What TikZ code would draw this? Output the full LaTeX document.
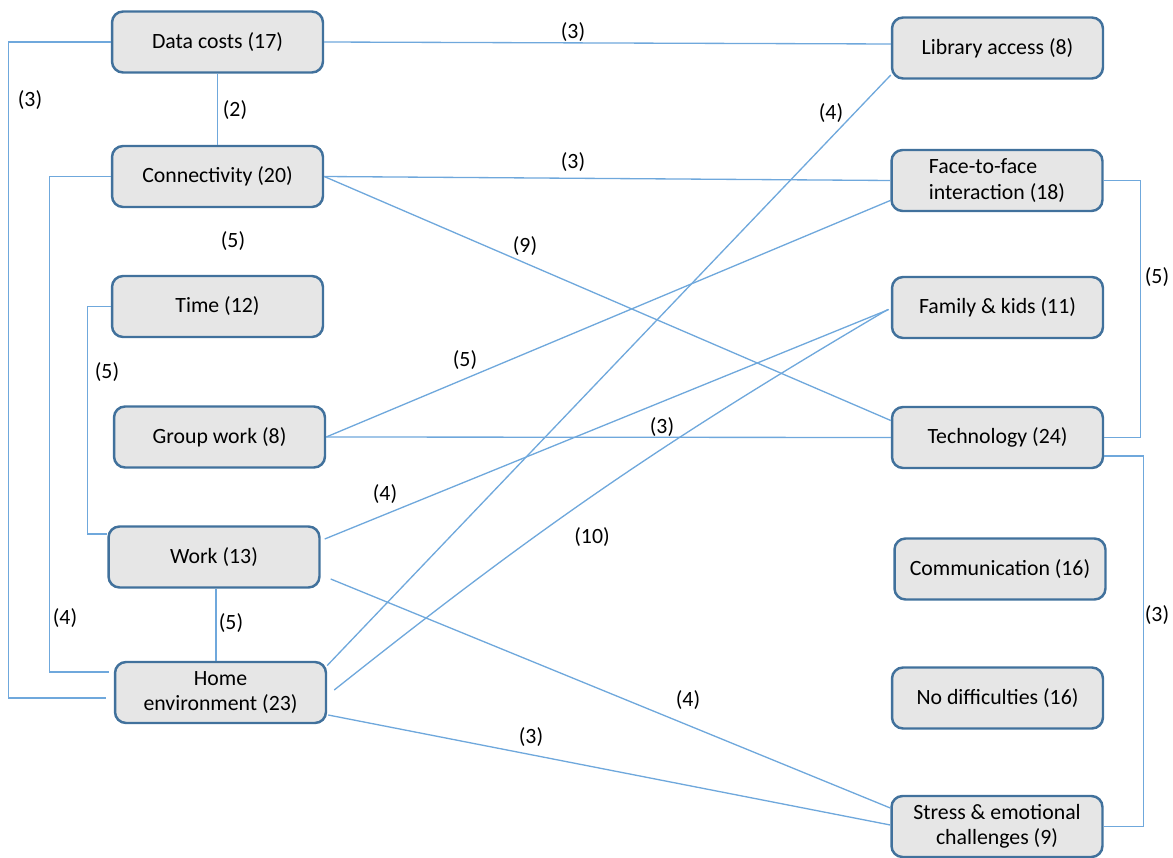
\documentclass[tikz,border=0pt]{standalone}
\usepackage{fontspec}
\setmainfont{Carlito}
\usetikzlibrary{calc}
\definecolor{boxedge}{HTML}{41719C}
\definecolor{boxfill}{HTML}{E6E6E6}
\definecolor{linkblue}{HTML}{6FA8DC}
\begin{document}
\begin{tikzpicture}[x=0.02cm,y=-0.02cm,
  box/.style={draw=boxedge, fill=boxfill, line width=1.4pt, rounded corners=0.22cm,
    minimum width=4.22cm, minimum height=1.22cm, inner sep=2pt, align=center,
    font=\fontsize{12.4}{14.5}\selectfont},
  link/.style={draw=linkblue, line width=0.75pt},
  num/.style={font=\fontsize{12.4}{14.5}\selectfont, inner sep=1pt}]
\useasboundingbox (0,0) rectangle (1173,858);

% left column
\node[box] (dc)    at (217.5,42)  {Data costs (17)};
\node[box] (conn)  at (217.5,176.5) {Connectivity (20)};
\node[box] (time)  at (217.5,306.5) {Time (12)};
\node[box] (group) at (219.5,437) {Group work (8)};
\node[box] (work)  at (214,557)   {Work (13)};
\node[box] (home)  at (220.5,692.5) {Home\\environment (23)};

% right column
\node[box] (lib)    at (997.5,48)   {Library access (8)};
\node[box, align=left] (f2f) at (997,180.5) {Face-to-face\\interaction (18)};
\node[box] (fam)    at (997.5,307.5) {Family \& kids (11)};
\node[box] (tech)   at (997.5,437.5) {Technology (24)};
\node[box] (comm)   at (1000,569)   {Communication (16)};
\node[box] (nodiff) at (997.5,698)  {No difficulties (16)};
\node[box] (stress) at (997,826.5)  {Stress \& emotional\\challenges (9)};

% elbow connectors on the left
\draw[link] (dc.west) -- ++(-102,0) |- ($(home.west)+(-8,5.5)$);
\draw[link] (conn.west) -- ++(-61,0) |- ($(home.west)+(-5,-20.5)$);
\draw[link] (time.west) -- ++(-23,0) |- ($(work.west)+(0,-23)$);
\draw[link] (dc.south) -- (conn.north);
\coordinate (wh) at (216,0);
\draw[link] (work.south -| wh) -- (home.north -| wh);

% straight links across
\draw[link] (dc.east) -- ($(lib.west)+(0,-4)$);
\draw[link] (conn.east) -- (f2f.west);
\draw[link] (conn.east) -- ($(tech.west)+(0,-17)$);
\draw[link] (group.east) -- ($(f2f.west)+(0,20)$);
\draw[link] (group.east) -- (tech.west);
\draw[link] ($(work.east)+(4,-18)$) -- ($(fam.west)+(-2,2)$);
\draw[link] ($(work.east)+(10,22)$) -- ($(stress.west)+(0,-18.5)$);
\draw[link] ($(home.east)+(0,-27)$) -- ($(lib.west)+(0,27)$);
\draw[link] ($(home.east)+(7,-2.5)$) to[bend left=4] ($(fam.west)+(-3,2)$);
\draw[link] ($(home.east)+(1,22.5)$) -- ($(stress.west)+(0,-1.5)$);

% elbow connectors on the right
\draw[link] (f2f.east) -- ++(37,0) |- (tech.east);
\draw[link] ($(tech.east)+(0,18.5)$) -- ++(39,0) |- (stress.east);

% link counts
\node[num] (n1)  at (30,100)   {(3)};
\node[num] (n2)  at (235,110)  {(2)};
\node[num] (n3)  at (233,241)  {(5)};
\node[num] (n4)  at (107,372)  {(5)};
\node[num] (n5)  at (65,618)   {(4)};
\node[num] (n6)  at (231,623)  {(5)};
\node[num] (n7)  at (573,32)   {(3)};
\node[num] (n8)  at (573,162)  {(3)};
\node[num] (n9)  at (525,246)  {(9)};
\node[num] (n10) at (465,360)  {(5)};
\node[num] (n11) at (662,427)  {(3)};
\node[num] (n12) at (385,494)  {(4)};
\node[num] (n13) at (592,537)  {(10)};
\node[num] (n14) at (831,113)  {(4)};
\node[num] (n15) at (688,700)  {(4)};
\node[num] (n16) at (531,737)  {(3)};
\node[num] (n17) at (1157,277) {(5)};
\node[num] (n18) at (1157,615) {(3)};
\end{tikzpicture}
\end{document}
